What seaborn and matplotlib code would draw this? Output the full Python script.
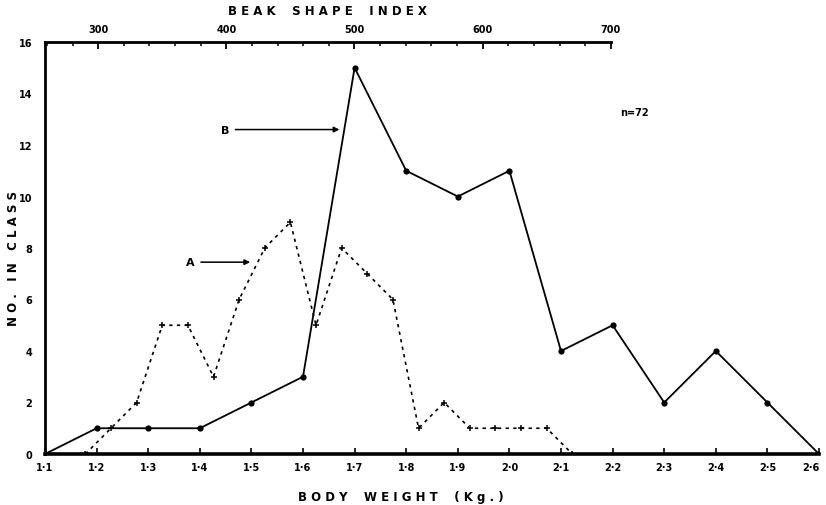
import numpy as np
import pandas as pd
import matplotlib
matplotlib.use("Agg")
import matplotlib.pyplot as plt
import seaborn as sns

# Curve B: counts per body-weight class (kg)
weight_kg = [1.1, 1.2, 1.3, 1.4, 1.5, 1.6, 1.7, 1.8, 1.9, 2.0, 2.1, 2.2, 2.3, 2.4, 2.5, 2.6]
count_weight = [0, 1, 1, 1, 2, 3, 15, 11, 10, 11, 4, 5, 2, 4, 2, 0]

# Curve A: counts per beak-shape-index class
beak_index = [290, 310, 330, 350, 370, 390, 410, 430, 450, 470,
              490, 510, 530, 550, 570, 590, 610, 630, 650, 670]
count_beak = [0, 1, 2, 5, 5, 3, 6, 8, 9, 5, 8, 7, 6, 1, 2, 1, 1, 1, 1, 0]

weight_ticks = [1.1, 1.2, 1.3, 1.4, 1.5, 1.6, 1.7, 1.8, 1.9, 2.0, 2.1, 2.2, 2.3, 2.4, 2.5, 2.6]
weight_labels = ["1·1", "1·2", "1·3", "1·4", "1·5", "1·6", "1·7", "1·8", "1·9", "2·0",
                 "2·1", "2·2", "2·3", "2·4", "2·5", "2·6"]
beak_ticks = [300, 400, 500, 600, 700]
beak_minor = list(range(260, 701, 20))
count_ticks = [0, 2, 4, 6, 8, 10, 12, 14, 16]

sns.set_style("white", {"text.color": "black", "axes.labelcolor": "black",
                        "xtick.color": "black", "ytick.color": "black",
                        "axes.edgecolor": "black"})
plt.rcParams["font.family"] = ["DejaVu Sans"]

fig = plt.figure(figsize=(8.26, 5.06), dpi=100)
ax = fig.add_axes([45 / 826, 51 / 506, 774 / 826, 412 / 506])

df_b = pd.DataFrame({"w": weight_kg, "n": count_weight})
sns.lineplot(data=df_b, x="w", y="n", ax=ax, color="black", lw=1.3,
             marker="o", markersize=4.5, markeredgewidth=0, sort=False)

ax.set_xlim(1.1, 2.6)
ax.set_ylim(0, 16)
ax.set_xticks(weight_ticks)
ax.set_xticklabels(weight_labels)
ax.set_yticks(count_ticks)
ax.tick_params(axis="both", direction="in", length=4, width=1.2, labelsize=7,
               pad=6, colors="black")
ax.tick_params(axis="y", length=0, pad=9)
for lbl in ax.get_xticklabels() + ax.get_yticklabels():
    lbl.set_fontweight("bold")
ax.get_xticklabels()[-1].set_horizontalalignment("right")
ax.set_xlabel("B O D Y    W E I G H T    ( K g . )", fontsize=8.5,
              fontweight="bold")
ax.set_ylabel("N O .   I N   C L A S S", fontsize=8.5, fontweight="bold")
ax.xaxis.set_label_coords(0.46, -0.088)
ax.yaxis.set_label_coords(-0.032, 0.478)
ax.spines["top"].set_visible(False)
ax.spines["right"].set_visible(False)
ax.spines["left"].set_linewidth(2.0)
ax.spines["bottom"].set_linewidth(2.6)

# Beak shape index axis on top
ax2 = ax.twiny()
df_a = pd.DataFrame({"b": beak_index, "n": count_beak})
sns.lineplot(data=df_a, x="b", y="n", ax=ax2, color="black", lw=1.2,
             linestyle=(0, (2.0, 2.6)), marker="+", markersize=4.2,
             markeredgewidth=1.1, markeredgecolor="black", sort=False)
ax2.set_xlim(258.5, 862.5)
ax2.set_ylim(0, 16)
ax2.set_xticks(beak_ticks)
ax2.set_xticks(beak_minor, minor=True)
ax2.tick_params(axis="x", which="major", direction="in", length=5, width=1.3,
                labelsize=7, pad=6, colors="black")
ax2.tick_params(axis="x", which="minor", direction="in", length=3, width=1.1,
                colors="black")
for lbl in ax2.get_xticklabels():
    lbl.set_fontweight("bold")
ax2.set_xlabel("B E A K    S H A P E    I N D E X", fontsize=8.5,
               fontweight="bold")
ax2.xaxis.set_label_coords(0.365, 1.068)
for side in ["bottom", "left", "right"]:
    ax2.spines[side].set_visible(False)
ax2.spines["top"].set_linewidth(2.0)
ax2.spines["top"].set_bounds(258.5, 700)
ax2.set_ylabel("")
ax2.yaxis.set_visible(False)

# Curve labels with arrows
arrow = dict(arrowstyle="-|>", color="black", lw=1.1, mutation_scale=8)
ax.annotate("A", xy=(1.503, 7.45), xytext=(1.382, 7.45), fontsize=8,
            fontweight="bold", va="center", ha="center", arrowprops=arrow)
ax.annotate("B", xy=(1.676, 12.6), xytext=(1.449, 12.6), fontsize=8,
            fontweight="bold", va="center", ha="center", arrowprops=arrow)
ax.text(2.243, 13.3, "n=72", fontsize=7, fontweight="bold", ha="center",
        va="center")

fig.savefig("out.png", dpi=100)
